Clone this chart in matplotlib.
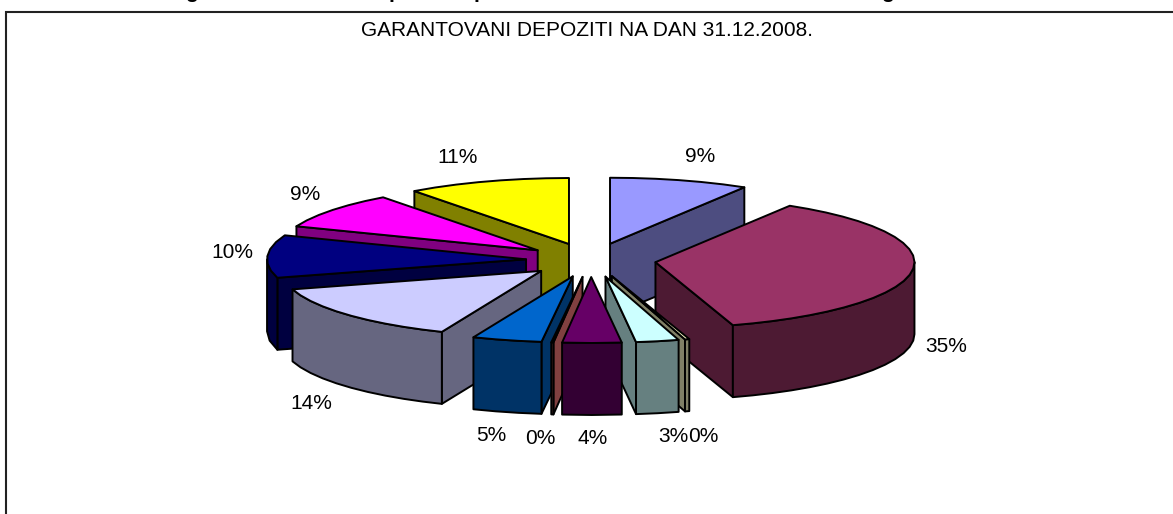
import numpy as np
import matplotlib
matplotlib.use("Agg")
import matplotlib.pyplot as plt
from matplotlib.patches import Polygon

title = "GARANTOVANI DEPOZITI NA DAN 31.12.2008."
values = [9.45, 35.2, 0.3, 2.95, 4.1, 0.15, 4.75, 14.0, 9.5, 8.6, 11.0]
top_colors = ["#9999FF", "#993366", "#FFFFCC", "#CCFFFF", "#660066", "#FF8080",
              "#0066CC", "#CCCCFF", "#000080", "#FF00FF", "#FFFF00"]
side_colors = ["#4D4D80", "#4D1A33", "#808066", "#668080", "#330033", "#804040",
               "#003366", "#666680", "#000040", "#800080", "#808000"]
draw_order = [0, 10, 9, 8, 7, 1, 2, 3, 6, 5, 4]
label_nudge = [(14, -24), (38, 4), (8, 26), (10, 24), (-1, 24), (-11, 24),
               (-13, 24), (-38, 18), (-43, -4), (-27, -18), (-28, -24)]

W, H = 1173, 514
CX, CY = 591, 260      # pie centre in pixels
RX, RY = 259, 66       # top ellipse radii
EX, EY = 65, 17        # explosion distance
DEPTH = 72
LW = 1.4
PERSPECTIVE = np.radians(3)   # angle shift of the tilted 3-D view

fig = plt.figure(figsize=(W / 100, H / 100), dpi=100, facecolor="white")
ax = fig.add_axes([0, 0, 1, 1])
ax.set_xlim(0, W)
ax.set_ylim(H, 0)
ax.axis("off")
plt.rcParams["font.family"] = ["Liberation Sans", "DejaVu Sans"]

# chart frame, cut off by the picture on the right and bottom
ax.plot([6, 6, W + 5], [H + 5, 12, 12], color="#222222", lw=1.5, solid_joinstyle="miter")

# clipped remains of the caption above the chart
for x, ch in [(192, "g"), (395, "p"), (480, "p"), (887, "g")]:
    ax.text(x, -1.5, ch, ha="center", va="baseline", fontsize=15, fontweight="bold",
            color="black", clip_on=True)

ax.text(587, 31, title, ha="center", va="center", fontsize=15, color="black")

fractions = np.array(values) / sum(values)
edges = np.concatenate([[0], np.cumsum(fractions)]) * 2 * np.pi


def rim(apex, th):
    t = th - PERSPECTIVE * np.sin(2 * th)
    return apex[0] + RX * np.sin(t), apex[1] - RY * np.cos(t)


def add(points, color, z):
    ax.add_patch(Polygon(points, closed=True, facecolor=color, edgecolor="black",
                         lw=LW, joinstyle="round", zorder=z))


z = 2
for i in draw_order:
    a, b = edges[i], edges[i + 1]
    mid = (a + b) / 2
    apex = (CX + EX * np.sin(mid), CY - EY * np.cos(mid))
    n = max(2, int(np.degrees(b - a) / 5) + 1)
    ths = np.linspace(a, b, n)

    # radial side faces that look towards the viewer
    for th, visible in ((b, np.sin(b) > 0), (a, np.sin(a) < 0)):
        if visible:
            p = rim(apex, th)
            add([apex, p, (p[0], p[1] + DEPTH), (apex[0], apex[1] + DEPTH)], side_colors[i], z)
            z += 1

    # curved outer wall, front half only
    lo, hi = max(a, np.pi / 2), min(b, 3 * np.pi / 2)
    if hi > lo:
        wall = np.linspace(lo, hi, max(2, int(np.degrees(hi - lo) / 5) + 1))
        upper = [rim(apex, t) for t in wall]
        lower = [(x, y + DEPTH) for x, y in upper][::-1]
        add(upper + lower, side_colors[i], z)
        z += 1

    # top face
    add([apex] + [rim(apex, t) for t in ths], top_colors[i], z)
    z += 1

for i, v in enumerate(values):
    mid = (edges[i] + edges[i + 1]) / 2
    x = 593 + 318 * np.sin(mid)
    y = CY - 83 * np.cos(mid) + (DEPTH if np.cos(mid) < 0 else 0)
    dx, dy = label_nudge[i]
    ax.text(x + dx, y + dy, f"{v:.0f}%", ha="center", va="center", fontsize=15,
            color="black", zorder=100)

fig.savefig("out.png", dpi=100, facecolor="white")
